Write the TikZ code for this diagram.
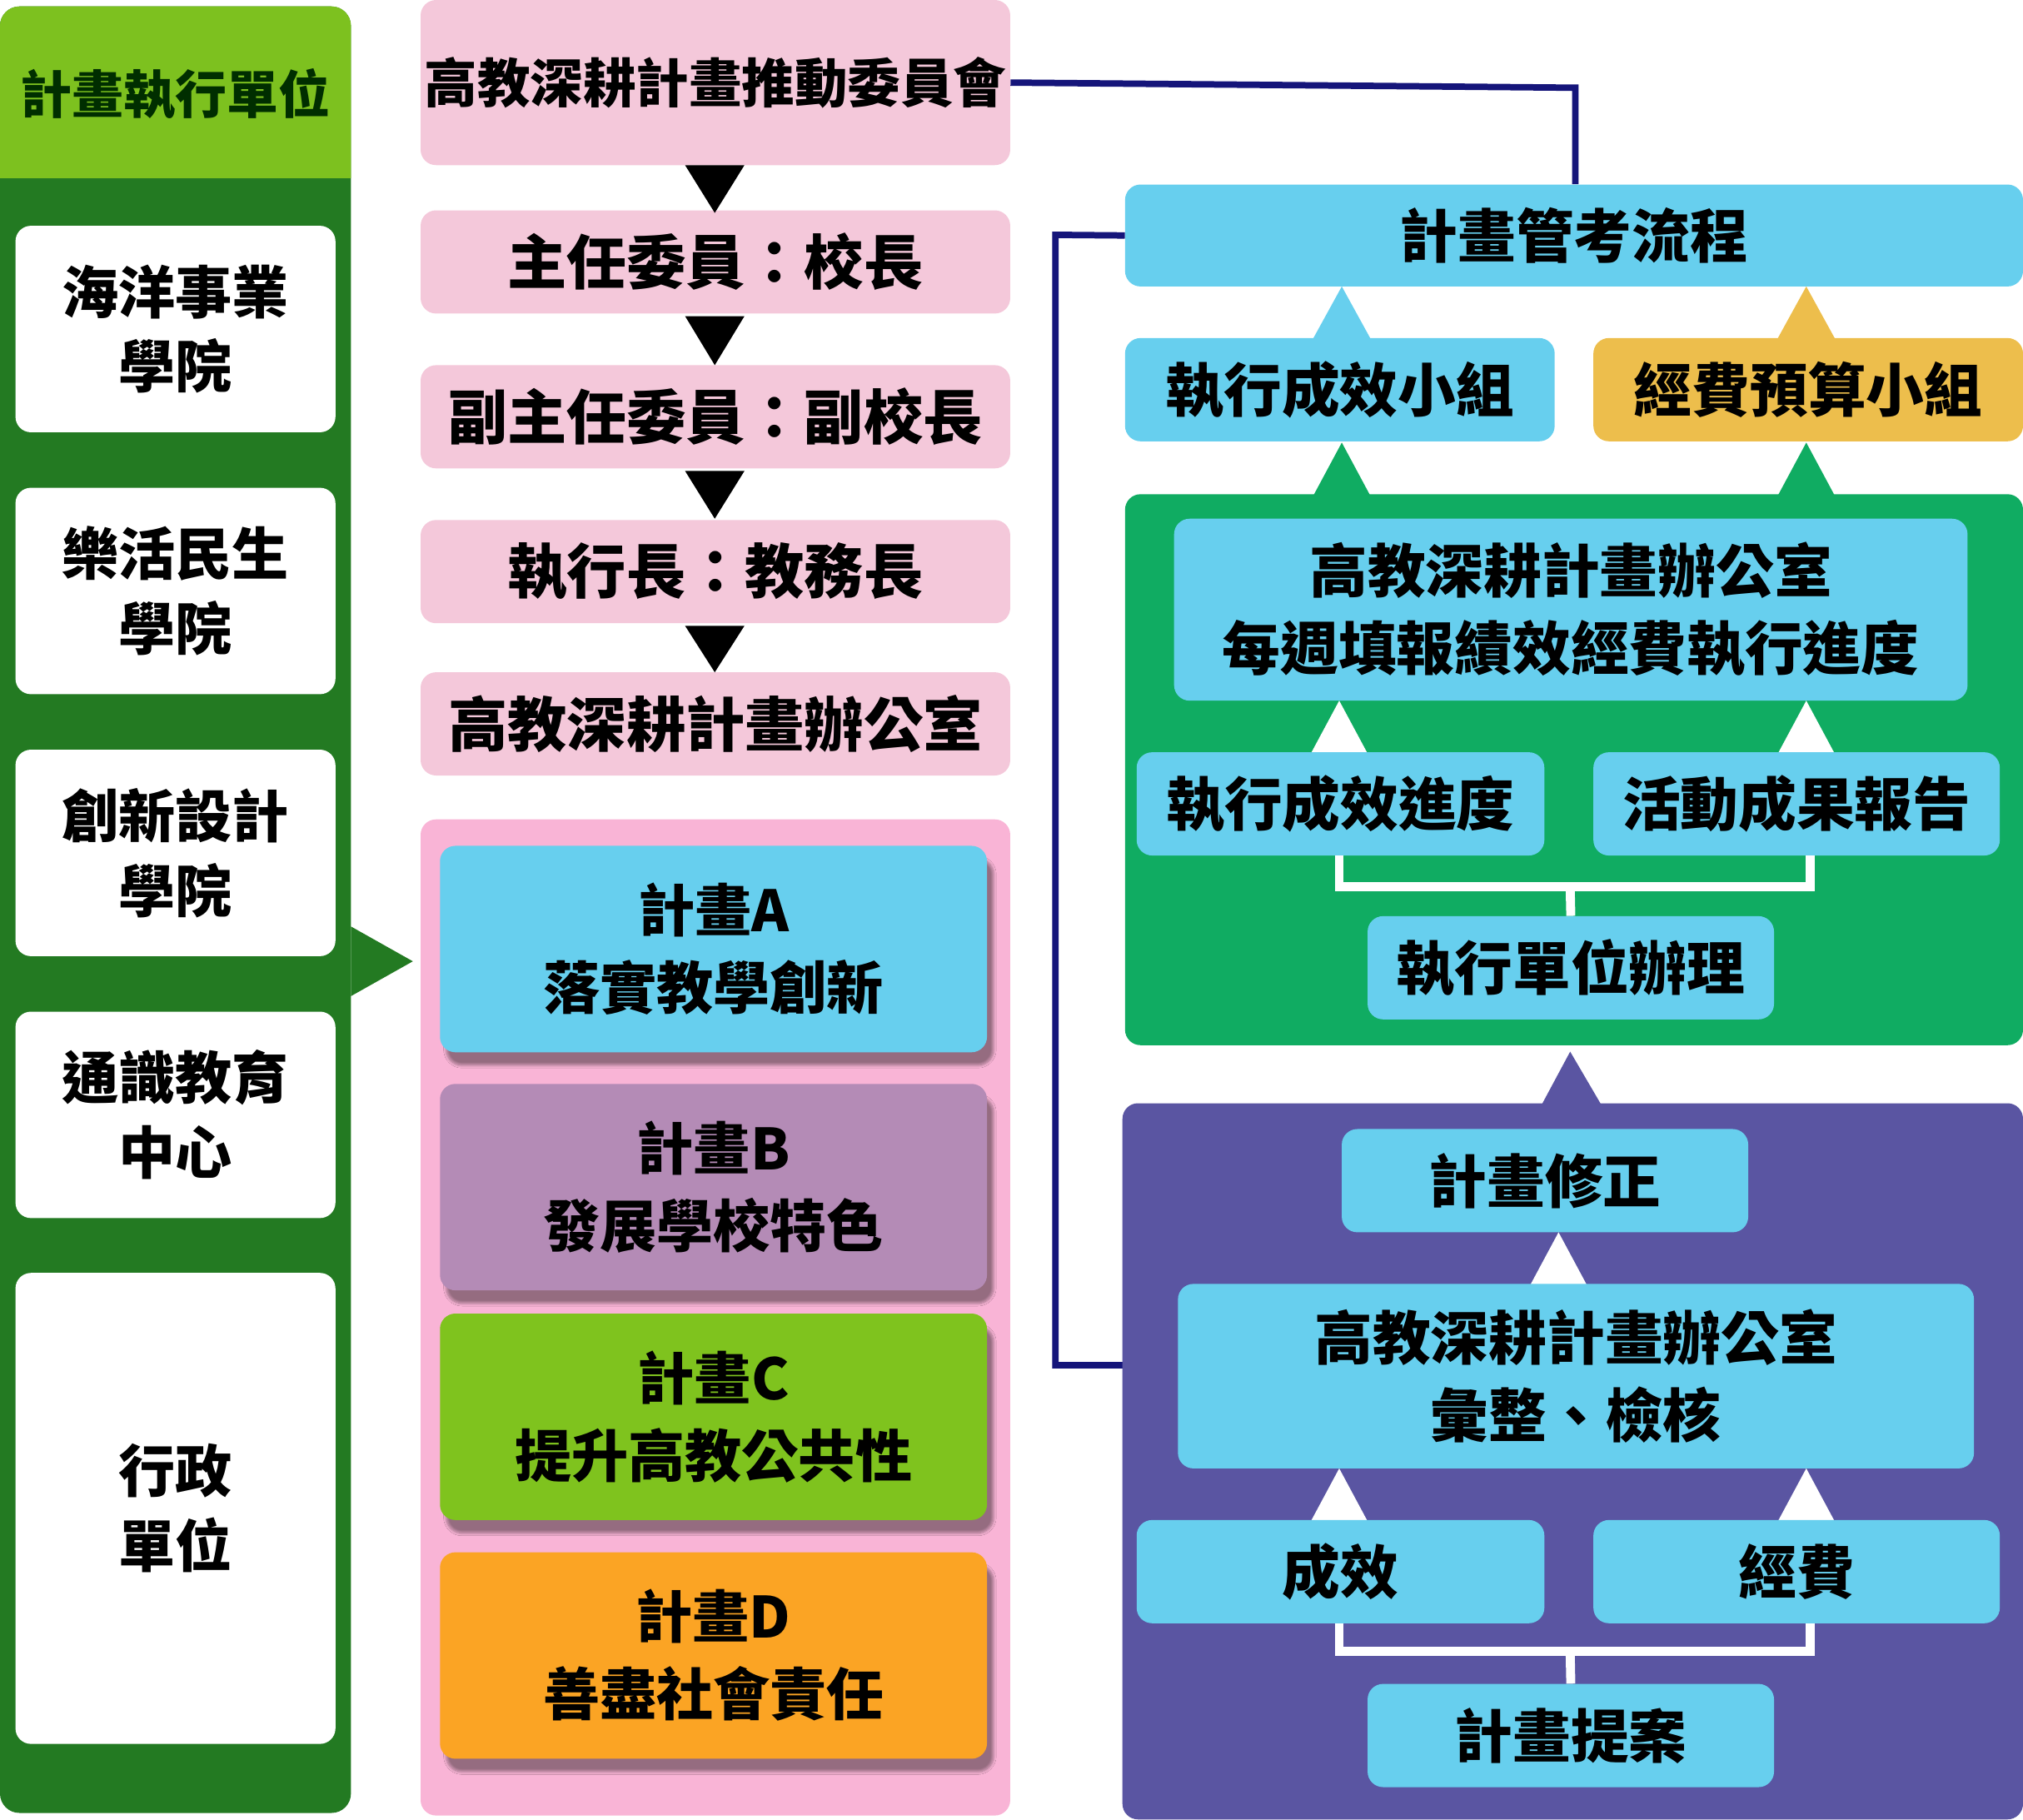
\documentclass[tikz,border=0pt]{standalone}
\usepackage{fontspec}
\setmainfont{Noto Sans CJK TC}
\usetikzlibrary{shadows.blur}
\definecolor{lg}{HTML}{7DC11F}
\definecolor{dg}{HTML}{237A22}
\definecolor{pk}{HTML}{F4C8DA}
\definecolor{pk2}{HTML}{F9B4D6}
\definecolor{bl}{HTML}{67CFEE}
\definecolor{pu}{HTML}{B48BB6}
\definecolor{gr}{HTML}{7FC31E}
\definecolor{or}{HTML}{FBA424}
\definecolor{gd}{HTML}{EDBE4C}
\definecolor{gn}{HTML}{10AC62}
\definecolor{vi}{HTML}{5A55A2}
\definecolor{nv}{HTML}{15157A}
\begin{document}
\begin{tikzpicture}[x=1pt,y=-1pt,
 box/.style={rounded corners=12pt,inner sep=0pt,align=center,font=\bfseries\fontsize{44}{58}\selectfont},
 wb/.style={box,fill=white,minimum width=248pt},
 pb/.style={box,fill=pk,minimum width=457pt,font=\bfseries\fontsize{41}{50}\selectfont},
 plan/.style={box,minimum width=424pt,minimum height=160pt,blur shadow={shadow xshift=5pt,shadow yshift=-10pt,shadow blur steps=8},font=\bfseries\fontsize{44}{60}\selectfont},
 rb/.style={box,fill=bl,minimum height=80pt,font=\bfseries\fontsize{45}{58}\selectfont},
 tri/.style={},
 nl/.style={nv,line width=5pt}]
\useasboundingbox (0,0) rectangle (1568,1410);
% left column
\fill[dg,rounded corners=15pt] (0,5) rectangle (272,1405);
\fill[lg] (0,138) [rounded corners=15pt]-- (0,5) -- (272,5) [sharp corners]-- (272,138) -- cycle;
\node[font=\bfseries\fontsize{40}{48}\selectfont,text=black!70!green!60!black] (t) at (136,73) {計畫執行單位};
\fill[dg] (272,718) -- (320,745) -- (272,772) -- cycle;
\node[wb,minimum height=160pt] (w1) at (136,255) {海洋事業\\學院};
\node[wb,minimum height=160pt] (w2) at (136,458) {樂活民生\\學院};
\node[wb,minimum height=160pt] (w3) at (136,661) {創新設計\\學院};
\node[wb,minimum height=160pt] (w4) at (136,864) {通識教育\\中心};
\node[wb,minimum height=365pt] (w5) at (136,1169) {行政\\單位};
% middle
\node[pb,minimum height=128pt] (p1) at (554.5,64) {高教深耕計畫推動委員會};
\node[pb,minimum height=80pt,font=\bfseries\fontsize{46}{50}\selectfont] (p2) at (554.5,203) {主任委員：校長};
\node[pb,minimum height=80pt,font=\bfseries\fontsize{46}{50}\selectfont] (p3) at (554.5,323) {副主任委員：副校長};
\node[pb,minimum height=80pt,font=\bfseries\fontsize{46}{50}\selectfont] (p4) at (554.5,443) {執行長：教務長};
\node[pb,minimum height=80pt,font=\bfseries\fontsize{46}{50}\selectfont] (p5) at (554.5,561) {高教深耕計畫辦公室};
\foreach \a/\b in {128/165,245/283,365/402,485/521}
  \fill[black] (531,\a) -- (577,\a) -- (554,\b) -- cycle;
\fill[pk2,rounded corners=12pt] (326,635) rectangle (783,1407);
\node[plan,fill=bl] (A) at (553,735.5) {計畫A\\落實教學創新};
\node[plan,fill=pu] (B) at (553,920) {計畫B\\發展學校特色};
\node[plan,fill=gr] (C) at (553,1098) {計畫C\\提升高教公共性};
\node[plan,fill=or] (D) at (553,1283) {計畫D\\善盡社會責任};
% right
\node[rb,minimum width=696pt,minimum height=79pt] (m) at (1220,182.5) {計畫管考流程};
\draw[nl] (p1.east) -- (1221,68) -- (m.north -| 1221,0);
\draw[nl] (m.west) -- (818,182) -- (818,1058) -- (872,1058);
\fill[bl] (1018,262) -- (1062,262) -- (1040,222) -- cycle;
\fill[gd] (1378,262) -- (1422,262) -- (1400,222) -- cycle;
\node[rb,minimum width=333pt] (g1) at (1038.5,302) {執行成效小組};
\node[rb,fill=gd,minimum width=333pt] (g2) at (1401.5,302) {經費預算小組};
\fill[gn] (1018,384) -- (1062,384) -- (1040,343) -- cycle;
\fill[gn] (1378,384) -- (1422,384) -- (1400,343) -- cycle;
\fill[gn,rounded corners=12pt] (872,383) rectangle (1568,810);
\node[rb,minimum width=615pt,minimum height=141pt,font=\bfseries\fontsize{45}{60}\selectfont] (o1) at (1217.5,472.5) {高教深耕計畫辦公室\\每週填報績效經費執行進度};
\fill[white] (1016,584) -- (1060,584) -- (1038,543) -- cycle;
\fill[white] (1378,584) -- (1422,584) -- (1400,543) -- cycle;
\node[rb,minimum width=316pt] (e1) at (1039,623) {執行成效進度};
\node[rb,minimum width=315pt] (e2) at (1392.5,623) {活動成果報告};
\node[rb,minimum width=315pt] (e3) at (1217.5,750) {執行單位辦理};
\draw[white,line width=7pt] (1038,663) -- (1038,687) -- (1403,687) -- (1403,663);
\draw[white,line width=7pt] (1217,687) -- (e3.north);
\fill[vi] (1195,856) -- (1241,856) -- (1217,815) -- cycle;
\fill[vi,rounded corners=12pt] (870,855) rectangle (1568,1410);
\node[rb,minimum width=315pt] (f1) at (1197.5,915) {計畫修正};
\fill[white] (1186,996) -- (1230,996) -- (1208,955) -- cycle;
\node[rb,minimum width=617pt,minimum height=143pt,font=\bfseries\fontsize{45}{60}\selectfont] (o2) at (1221.5,1066.5) {高教深耕計畫辦公室\\彙整、檢核};
\fill[white] (1016,1179) -- (1060,1179) -- (1038,1138) -- cycle;
\fill[white] (1378,1179) -- (1422,1179) -- (1400,1138) -- cycle;
\node[rb,minimum width=316pt] (h1) at (1039,1218) {成效};
\node[rb,minimum width=315pt] (h2) at (1392.5,1218) {經費};
\node[rb,minimum width=315pt] (h3) at (1217.5,1345) {計畫提案};
\draw[white,line width=7pt] (1038,1258) -- (1038,1280) -- (1403,1280) -- (1403,1258);
\draw[white,line width=7pt] (1217,1280) -- (h3.north);
\end{tikzpicture}
\end{document}
